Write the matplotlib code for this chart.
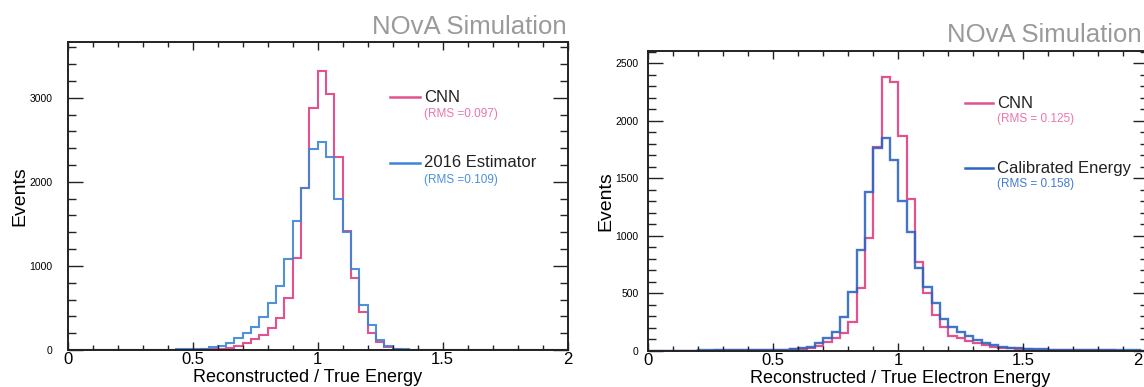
import numpy as np
import matplotlib
matplotlib.use("Agg")
import matplotlib.pyplot as plt

plt.rcParams['font.family'] = ['Liberation Sans', 'DejaVu Sans']

# 60 bins from 0 to 2
bin_edges = np.linspace(0, 2, 61)

# left panel: numu-like energy ratio
cnn_left = [1, 1, 1, 1, 1, 1, 1, 1, 1, 2, 2, 2, 3, 3, 4,
            5, 7, 10, 16, 28, 48, 87, 130, 180, 260, 380, 620, 1090, 1925, 2880,
            3315, 3050, 2300, 1410, 860, 450, 198, 100, 38, 12, 5,
            3, 2, 2, 1, 1, 1, 1, 1, 1, 1, 1, 1, 1, 1, 1, 1, 1, 1, 1]
est_left = [1, 1, 1, 1, 1, 2, 2, 2, 2, 3, 3, 4, 5, 6, 8,
            12, 16, 32, 48, 87, 147, 198, 278, 390, 560, 766, 1079, 1540, 1930, 2389,
            2480, 2290, 1794, 1409, 960, 530, 295, 122, 42, 15, 6,
            4, 3, 2, 2, 1, 1, 1, 1, 1, 1, 1, 1, 1, 1, 1, 1, 1, 1, 1]

# right panel: electron energy ratio
cnn_right = [1, 1, 1, 1, 1, 1, 1, 1, 2, 2, 2, 3, 3, 4, 5,
             6, 8, 11, 15, 26, 43, 78, 113, 150, 250, 542, 980, 1775, 2378, 2340,
             1868, 1320, 775, 500, 310, 209, 128, 107, 84, 64, 49, 35, 26, 20, 15,
             12, 10, 8, 6, 5, 4, 3, 3, 2, 2, 2, 1, 1, 1, 1]
cal_right = [1, 1, 1, 1, 1, 1, 2, 2, 2, 2, 3, 3, 4, 4, 5,
             6, 9, 15, 23, 35, 64, 107, 160, 290, 513, 876, 1383, 1760, 1847, 1660,
             1305, 1030, 716, 557, 418, 273, 203, 165, 128, 93, 70, 49, 35, 26, 20,
             16, 13, 11, 9, 7, 6, 5, 4, 4, 3, 3, 2, 2, 2, 1]

xtick_labels = ['0', '0.5', '1', '1.5', '2']
labels_left = ["CNN", "2016 Estimator"]
rms_left = ["(RMS =0.097)", "(RMS =0.109)"]
labels_right = ["CNN", "Calibrated Energy"]
rms_right = ["(RMS = 0.125)", "(RMS = 0.158)"]

pink = '#e2528f'
pink_txt = '#ec74ad'
blue_l = '#3d85d6'
blue_r = '#2d66c2'

W, H = 1144, 387
fig = plt.figure(figsize=(W / 100, H / 100), dpi=100)


def fx(px):
    return px / W


def fy(py):
    return 1 - py / H


def style_axes(ax, ymax, ymajor, yminor, ypad, xlabels):
    ax.set_xlim(0, 2)
    ax.set_ylim(0, ymax)
    ax.set_xticks([0, 0.5, 1, 1.5, 2])
    ax.set_xticklabels(xlabels)
    ax.set_xticks(np.arange(0, 2.01, 0.1), minor=True)
    ax.set_yticks(np.arange(0, ymax, ymajor))
    ax.set_yticks(np.arange(0, ymax, yminor), minor=True)
    ax.tick_params(which='both', direction='in', top=True, right=True,
                   color='#222222', width=1.0)
    ax.tick_params(axis='x', which='major', length=6, labelsize=12, pad=1.5)
    ax.tick_params(axis='x', which='minor', length=3.3)
    ax.tick_params(axis='y', which='major', length=10.5, labelsize=7.5, pad=ypad)
    ax.tick_params(axis='y', which='minor', length=5.5)
    for s in ax.spines.values():
        s.set_linewidth(1.4)
        s.set_color('#222222')


def legend_block(ax, ys, labels, rms, colors, txtcolors, x0, x1, xt):
    for y, lab, r, c, tc in zip(ys, labels, rms, colors, txtcolors):
        ax.plot([x0, x1], [y, y], color=c, lw=1.8, transform=ax.transAxes,
                clip_on=False)
        ax.text(xt, y, lab, transform=ax.transAxes, fontsize=12, va='center',
                ha='left', color='#222222')
        ax.text(xt, y - 0.054, r, transform=ax.transAxes, fontsize=8.5,
                va='center', ha='left', color=tc)


# ---- left panel
axl = fig.add_axes([fx(67.7), fy(350), 500 / W, (350 - 42.3) / H])
axl.stairs(cnn_left, bin_edges, color=pink, lw=1.5)
axl.stairs(est_left, bin_edges, color=blue_l, lw=1.5, alpha=0.9)
style_axes(axl, 3660, 1000, 200, 11, xtick_labels)
axl.set_xlabel("Reconstructed / True Energy", fontsize=13)
axl.xaxis.set_label_coords(0.48, -0.09)
axl.xaxis.label.set_va('center')
axl.set_ylabel("Events", fontsize=14)
axl.yaxis.set_label_coords(-0.095, 0.5)
axl.yaxis.label.set_va('center')
axl.text(0.997, 1.051, "NOvA Simulation", transform=axl.transAxes,
         fontsize=18.5, color='#9a9a9a', ha='right', va='center')
legend_block(axl, [0.822, 0.608], labels_left, rms_left,
             [pink, blue_l], [pink_txt, '#4a90e0'], 0.645, 0.705, 0.712)

# ---- right panel (cropped at the right edge)
axr = fig.add_axes([fx(648.3), fy(350.7), 500 / W, (350.7 - 50.7) / H])
axr.stairs(cnn_right, bin_edges, color=pink, lw=1.6)
axr.stairs(cal_right, bin_edges, color=blue_r, lw=1.7, alpha=0.9)
style_axes(axr, 2610, 500, 100, 7, xtick_labels[:-1] + [''])
# last tick label sits at the image edge: draw it right-aligned inside
axr.text(0.9885, -0.007, xtick_labels[-1], transform=axr.transAxes,
         fontsize=12, ha='right', va='top')
axr.set_xlabel("Reconstructed / True Electron Energy", fontsize=13)
axr.xaxis.set_label_coords(0.503, -0.092)
axr.xaxis.label.set_va('center')
axr.set_ylabel("Events", fontsize=14)
axr.yaxis.set_label_coords(-0.085, 0.5)
axr.yaxis.label.set_va('center')
axr.text(0.986, 1.052, "NOvA Simulation", transform=axr.transAxes,
         fontsize=18.5, color='#9a9a9a', ha='right', va='center')
legend_block(axr, [0.825, 0.609], labels_right, rms_right,
             [pink, blue_r], [pink_txt, '#3f7ad6'], 0.633, 0.69, 0.697)

fig.savefig("out.png", dpi=100)
